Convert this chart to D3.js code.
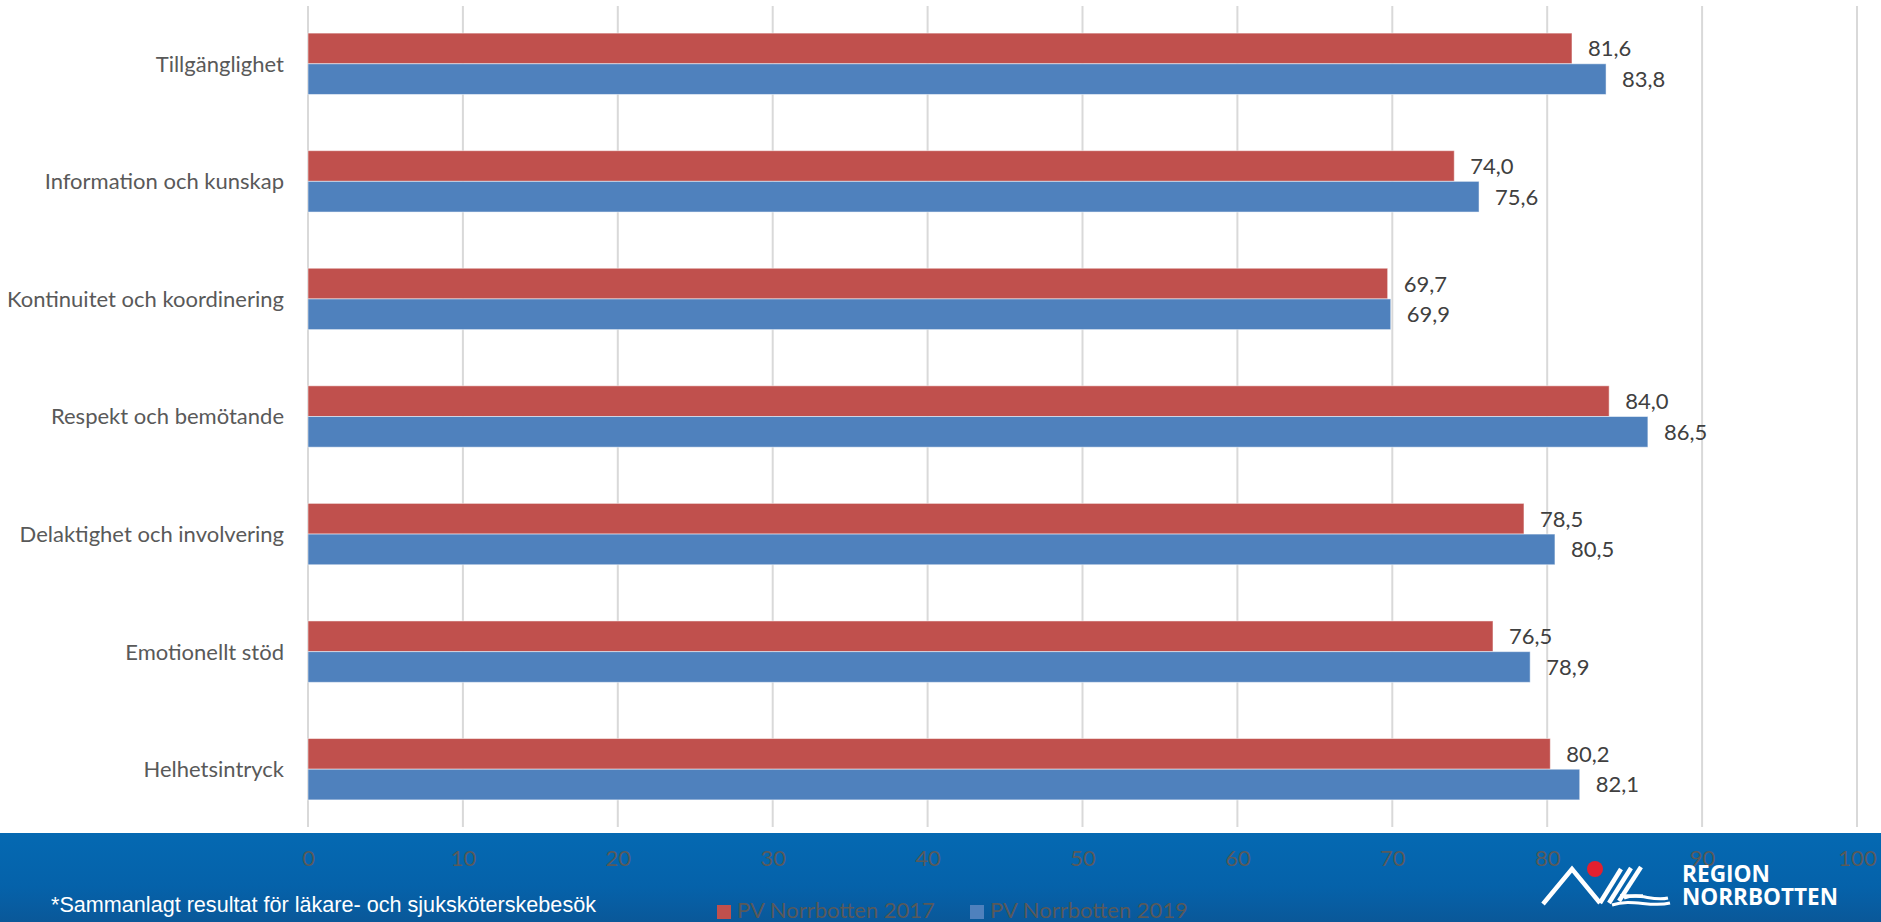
<!DOCTYPE html>
<html>
<head>
<meta charset="utf-8">
<script src="https://cdn.jsdelivr.net/npm/d3@7"></script>
<style>
html,body{margin:0;padding:0;background:#fff;overflow:hidden;}
svg{display:block;}
</style>
</head>
<body>
<script>
const categories = ["Tillgänglighet","Information och kunskap","Kontinuitet och koordinering","Respekt och bemötande","Delaktighet och involvering","Emotionellt stöd","Helhetsintryck"];
const values2017 = [81.6, 74.0, 69.7, 84.0, 78.5, 76.5, 80.2];
const values2019 = [83.8, 75.6, 69.9, 86.5, 80.5, 78.9, 82.1];
const seriesNames = ["PV Norrbotten 2017","PV Norrbotten 2019"];
const tickValues = [0,10,20,30,40,50,60,70,80,90,100];
const footnote = "*Sammanlagt resultat för läkare- och sjuksköterskebesök";

const W = 1881, H = 922;
const colors = ["#c0504d","#4f81bd"];
const svg = d3.select("body").append("svg").attr("width",W).attr("height",H);

const defs = svg.append("defs");
const grad = defs.append("linearGradient").attr("id","band").attr("x1",0).attr("y1",0).attr("x2",0).attr("y2",1);
grad.append("stop").attr("offset","0%").attr("stop-color","#0569b2");
grad.append("stop").attr("offset","60%").attr("stop-color","#0562aa");
grad.append("stop").attr("offset","100%").attr("stop-color","#0a5899");

const x = d3.scaleLinear().domain([0,100]).range([308,1857]);
const y = d3.scaleBand().domain(categories).range([5,828]).padding(0);
const barH = y.bandwidth()*0.261;

// gridlines
svg.append("g").selectAll("line").data(tickValues).join("line")
  .attr("x1",d=>x(d)).attr("x2",d=>x(d)).attr("y1",6).attr("y2",827)
  .attr("stroke","#d9d9d9").attr("stroke-width",2);

// bars
const series = [values2017, values2019];
series.forEach((vals,si)=>{
  const g = svg.append("g");
  g.selectAll("rect").data(categories).join("rect")
    .attr("x",x(0))
    .attr("y",(c)=>y(c)+y.bandwidth()/2 - barH + si*barH)
    .attr("width",(c,i)=>x(vals[i])-x(0))
    .attr("height",barH)
    .attr("fill",colors[si])
    .attr("stroke","rgba(255,255,255,0.5)").attr("stroke-width",1);
  g.selectAll("text").data(categories).join("text")
    .attr("x",(c,i)=>x(vals[i])+16)
    .attr("y",(c)=>y(c)+y.bandwidth()/2 - barH/2 + si*barH)
    .attr("dy","0.36em")
    .attr("font-family","Lato, sans-serif").attr("font-size",22)
    .attr("fill","#404040")
    .text((c,i)=>d3.format(".1f")(vals[i]).replace(".",","));
});

// category labels
svg.append("g").selectAll("text").data(categories).join("text")
  .attr("x",284).attr("y",c=>y(c)+y.bandwidth()/2).attr("dy","0.36em")
  .attr("text-anchor","end")
  .attr("font-family","Lato, sans-serif").attr("font-size",22)
  .attr("fill","#595959").text(c=>c);

// blue footer band
svg.append("rect").attr("x",0).attr("y",833).attr("width",W).attr("height",H-833).attr("fill","url(#band)");

// axis tick labels
const axis = d3.axisBottom(x).tickValues(tickValues).tickSize(0).tickPadding(0);
const ag = svg.append("g").attr("transform","translate(0,850)").call(axis);
ag.select(".domain").remove();
ag.selectAll("text").attr("font-family","Lato, sans-serif").attr("font-size",22).attr("fill","#5a5a5a").attr("dy","0.36em").attr("y",8);

// footnote
svg.append("text").attr("x",51).attr("y",912).attr("font-family","'Liberation Sans', Arial, sans-serif")
  .attr("font-size",22).attr("fill","#fff").attr("textLength",545).attr("lengthAdjust","spacingAndGlyphs").text(footnote);

// legend
const legX = [717, 970];
seriesNames.forEach((n,i)=>{
  svg.append("rect").attr("x",legX[i]).attr("y",905).attr("width",14).attr("height",14).attr("fill",colors[i]);
  svg.append("text").attr("x",legX[i]+20).attr("y",910).attr("dy","0.36em")
    .attr("font-family","Lato, sans-serif").attr("font-size",22).attr("fill","#595959").text(n);
});

// logo
const logo = svg.append("g").attr("fill","none").attr("stroke","#fff").attr("stroke-width",4.5).attr("stroke-linejoin","miter").attr("stroke-linecap","butt");
logo.append("path").attr("d","M1543,904 L1572,869 L1600,903");
logo.append("path").attr("d","M1600,903 L1621,869");
logo.append("path").attr("d","M1609,903 L1631,868");
logo.append("path").attr("d","M1619,901 L1641,867");
logo.append("path").attr("d","M1620,896 L1643,896").attr("stroke-width",3.5);
logo.append("path").attr("d","M1624,898 C1640,892 1652,902 1668,898").attr("stroke-width",3);
logo.append("path").attr("d","M1612,905 C1632,898 1650,908 1670,903").attr("stroke-width",3);
svg.append("circle").attr("cx",1595).attr("cy",869).attr("r",8).attr("fill","#e3202f");
svg.append("text").attr("x",1682).attr("y",882).attr("font-family","'Open Sans', sans-serif").attr("font-weight",700)
  .attr("font-size",23).attr("fill","#fff").attr("textLength",88).attr("lengthAdjust","spacingAndGlyphs").text("REGION");
svg.append("text").attr("x",1682).attr("y",905).attr("font-family","'Open Sans', sans-serif").attr("font-weight",700)
  .attr("font-size",23).attr("fill","#fff").attr("textLength",156).attr("lengthAdjust","spacingAndGlyphs").text("NORRBOTTEN");
</script>
</body>
</html>
